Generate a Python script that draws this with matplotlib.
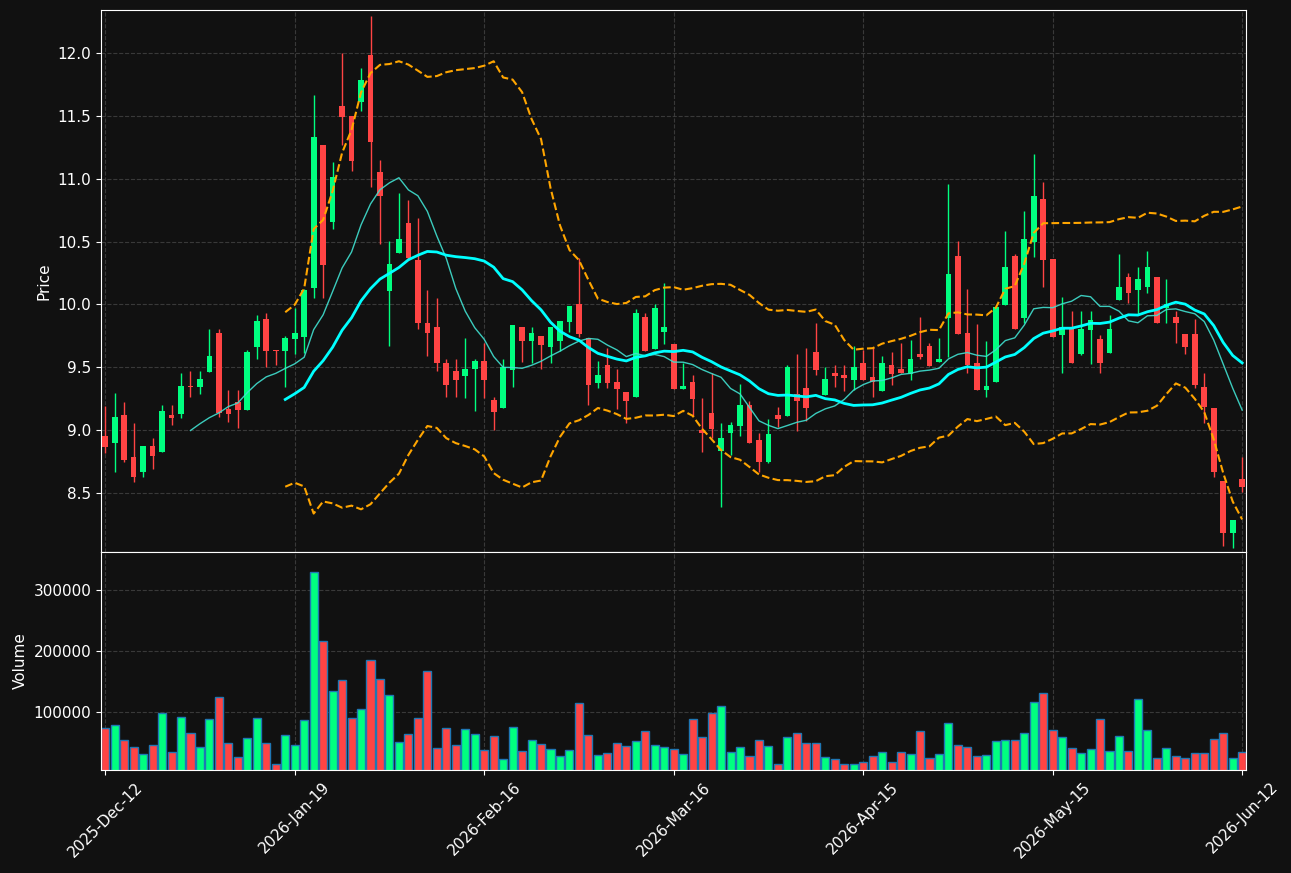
import numpy as np
import pandas as pd
import matplotlib
matplotlib.use("Agg")
import matplotlib.pyplot as plt

# OHLC + volume (one row per trading day)
opens = [8.953, 8.900, 9.120, 8.786, 8.669, 8.873, 8.828, 9.120, 9.131, 9.351,
         9.345, 9.465, 9.772, 9.168, 9.223, 9.162, 9.664, 9.884, 9.637, 9.632,
         9.725, 9.743, 10.133, 11.268, 10.658, 11.578, 11.499, 11.613, 11.984, 11.053,
         10.107, 10.411, 10.648, 10.353, 9.855, 9.823, 9.536, 9.473, 9.433, 9.483,
         9.552, 9.239, 9.178, 9.478, 9.820, 9.711, 9.749, 9.664, 9.709, 9.863,
         10.003, 9.730, 9.377, 9.518, 9.383, 9.300, 9.266, 9.900, 9.645, 9.783,
         9.685, 9.327, 9.383, 9.001, 9.136, 8.831, 8.979, 9.035, 9.200, 8.921,
         8.749, 9.120, 9.115, 9.287, 9.338, 9.624, 9.279, 9.457, 9.438, 9.398,
         9.536, 9.420, 9.313, 9.518, 9.483, 9.446, 9.605, 9.669, 9.542, 9.894,
         10.385, 9.772, 9.531, 9.319, 9.385, 9.998, 10.385, 9.894, 10.499, 10.838,
         10.361, 9.761, 9.804, 9.605, 9.796, 9.722, 9.616, 10.035, 10.220, 10.114,
         10.136, 10.215, 9.968, 9.897, 9.769, 9.769, 9.340, 9.173, 8.595, 8.184,
         8.608]
highs = [9.192, 9.298, 9.221, 9.054, 8.875, 8.934, 9.197, 9.197, 9.451, 9.470,
         9.470, 9.802, 9.802, 9.319, 9.319, 9.634, 9.916, 9.929, 9.637, 9.749,
         9.969, 10.120, 11.663, 11.270, 11.130, 11.997, 11.500, 11.878, 12.294, 11.146,
         10.504, 10.884, 10.828, 10.685, 10.115, 10.048, 9.563, 9.563, 9.730, 9.563,
         9.690, 9.266, 9.563, 9.836, 9.820, 9.820, 9.749, 9.820, 9.868, 9.987,
         10.367, 9.730, 9.550, 9.650, 9.483, 9.300, 9.966, 9.929, 10.003, 10.167,
         9.685, 9.536, 9.438, 9.253, 9.457, 9.054, 9.067, 9.364, 9.234, 8.979,
         9.086, 9.181, 9.518, 9.605, 9.650, 9.849, 9.499, 9.518, 9.518, 9.669,
         9.637, 9.663, 9.589, 9.624, 9.695, 9.716, 9.897, 9.695, 9.730, 10.958,
         10.504, 10.120, 9.844, 9.709, 9.976, 10.584, 10.400, 10.740, 11.196, 10.976,
         10.361, 10.056, 9.950, 9.950, 9.950, 9.761, 9.913, 10.398, 10.252, 10.295,
         10.425, 10.220, 10.199, 9.950, 9.769, 9.881, 9.451, 9.173, 8.595, 8.285,
         8.788]
lows = [8.815, 8.669, 8.749, 8.584, 8.629, 8.688, 8.828, 9.038, 9.099, 9.266,
        9.285, 9.465, 9.101, 9.067, 9.014, 9.162, 9.563, 9.499, 9.518, 9.345,
        9.605, 9.610, 10.048, 10.048, 10.597, 11.268, 11.064, 11.541, 10.931, 10.478,
        9.669, 10.411, 10.350, 9.802, 9.589, 9.473, 9.266, 9.266, 9.253, 9.152,
        9.253, 9.001, 9.178, 9.345, 9.544, 9.531, 9.483, 9.531, 9.632, 9.783,
        9.743, 9.200, 9.332, 9.332, 9.165, 9.054, 9.266, 9.632, 9.645, 9.685,
        9.327, 9.327, 9.112, 8.828, 8.934, 8.386, 8.802, 8.953, 8.900, 8.669,
        8.736, 9.022, 9.115, 8.995, 9.075, 9.438, 9.279, 9.345, 9.314, 9.319,
        9.398, 9.266, 9.313, 9.358, 9.451, 9.398, 9.563, 9.510, 9.542, 9.584,
        9.767, 9.451, 9.319, 9.266, 9.385, 9.998, 9.804, 9.849, 10.379, 10.136,
        9.743, 9.457, 9.531, 9.597, 9.526, 9.457, 9.616, 10.035, 10.013, 9.915,
        10.093, 9.854, 9.854, 9.695, 9.602, 9.332, 9.054, 8.624, 8.078, 8.059,
        8.510]
closes = [8.868, 9.104, 8.762, 8.629, 8.873, 8.794, 9.152, 9.099, 9.351, 9.343,
          9.406, 9.589, 9.139, 9.131, 9.162, 9.621, 9.868, 9.632, 9.630, 9.733,
          9.772, 10.115, 11.332, 10.313, 11.013, 11.493, 11.143, 11.785, 11.295, 10.865,
          10.321, 10.520, 10.366, 9.849, 9.770, 9.531, 9.361, 9.398, 9.486, 9.552,
          9.398, 9.147, 9.505, 9.836, 9.709, 9.772, 9.677, 9.820, 9.868, 9.987,
          9.764, 9.359, 9.438, 9.377, 9.327, 9.234, 9.931, 9.632, 9.971, 9.820,
          9.327, 9.351, 9.250, 8.979, 9.011, 8.937, 9.041, 9.200, 8.900, 8.749,
          8.969, 9.086, 9.499, 9.234, 9.176, 9.478, 9.406, 9.430, 9.417, 9.499,
          9.398, 9.380, 9.531, 9.446, 9.451, 9.563, 9.584, 9.510, 9.563, 10.242,
          9.767, 9.518, 9.319, 9.351, 9.976, 10.297, 9.804, 10.520, 10.862, 10.353,
          9.743, 9.823, 9.531, 9.804, 9.876, 9.531, 9.804, 10.141, 10.093, 10.199,
          10.297, 9.854, 10.000, 9.854, 9.663, 9.358, 9.181, 8.669, 8.184, 8.285,
          8.550]
volumes = [73500, 78500, 53700, 42100, 30600, 45400, 98300, 33900, 91700, 65300,
           42100, 88400, 124800, 48700, 26700, 57000, 90100, 48700, 14000, 62000,
           45400, 86800, 329800, 217400, 134700, 152900, 90100, 105000, 186000, 154500,
           128100, 50400, 63600, 90100, 167800, 40500, 73500, 45400, 71900, 63600,
           37200, 60300, 22300, 75200, 35500, 53700, 47100, 38800, 27300, 37200,
           114900, 62000, 28900, 32200, 48700, 43800, 52000, 68600, 45400, 42100,
           38800, 30600, 88400, 58700, 98300, 109900, 33900, 42100, 27300, 53700,
           43800, 14000, 58700, 65300, 48700, 48700, 25600, 22300, 14000, 14000,
           17300, 27300, 33900, 17300, 33900, 30600, 68600, 23900, 30600, 81800,
           45400, 42100, 27300, 28900, 52000, 53700, 53700, 65300, 116500, 131400,
           70200, 58700, 40500, 32200, 38800, 88400, 35500, 60300, 35500, 121500,
           70200, 23900, 40500, 27300, 23900, 32200, 32200, 55400, 65300, 23900,
           33900]

tick_pos = [0, 20, 40, 60, 80, 100, 120]
tick_labels = ["2025-Dec-12", "2026-Jan-19", "2026-Feb-16", "2026-Mar-16",
               "2026-Apr-15", "2026-May-15", "2026-Jun-12"]

BG = "#111111"
UP = "#00ff80"
DOWN = "#ff4444"

df = pd.DataFrame({"open": opens, "high": highs, "low": lows, "close": closes, "volume": volumes})
x = np.arange(len(df))
up = df["close"] >= df["open"]
colors = np.where(up, UP, DOWN)

ma10 = df["close"].rolling(10).mean()
ma20 = df["close"].rolling(20).mean()
sd20 = df["close"].rolling(20).std(ddof=0)
upper = ma20 + 2 * sd20
lower = ma20 - 2 * sd20

fig = plt.figure(figsize=(12.91, 8.73), dpi=100, facecolor=BG)
ax = fig.add_axes([0.0782, 0.3677, 0.8869, 0.6208])
axv = fig.add_axes([0.0782, 0.1180, 0.8869, 0.2497], sharex=ax)

for a in (ax, axv):
    a.set_facecolor(BG)
    for s in a.spines.values():
        s.set_color("white")
    a.tick_params(colors="white", labelsize=11)
    a.grid(True, linestyle="--", color="#444444", linewidth=0.8, alpha=0.8)
    a.set_axisbelow(True)

# candles
ax.vlines(x, df["low"], df["high"], colors=colors, linewidth=1, zorder=2)
body_lo = np.minimum(df["open"], df["close"])
body_h = np.maximum(np.abs(df["close"] - df["open"]), 0.006)
ax.bar(x, body_h, bottom=body_lo, width=0.6, color=colors, linewidth=0, zorder=3)

ax.plot(x, ma10, color="#40e0d0", linewidth=1, alpha=0.9, zorder=4)
ax.plot(x, ma20, color="#00ffff", linewidth=2, zorder=4)
ax.plot(x, upper, color="orange", linestyle="--", linewidth=1.5, zorder=4)
ax.plot(x, lower, color="orange", linestyle="--", linewidth=1.5, zorder=4)

ax.set_ylim(8.031, 12.342)
ax.set_yticks([8.5, 9.0, 9.5, 10.0, 10.5, 11.0, 11.5, 12.0])
ax.set_ylabel("Price", color="white", fontsize=11)
plt.setp(ax.get_xticklabels(), visible=False)

# volume
axv.bar(x, df["volume"], width=0.85, color=colors, edgecolor="#1f77b4", linewidth=1)
axv.set_ylim(4700, 362800)
axv.set_yticks([100000, 200000, 300000])
axv.set_ylabel("Volume", color="white", fontsize=11)

axv.set_xlim(-0.45, 120.4)
axv.set_xticks(tick_pos)
axv.set_xticklabels(tick_labels, rotation=45)

fig.savefig("out.png", dpi=100, facecolor=BG)
